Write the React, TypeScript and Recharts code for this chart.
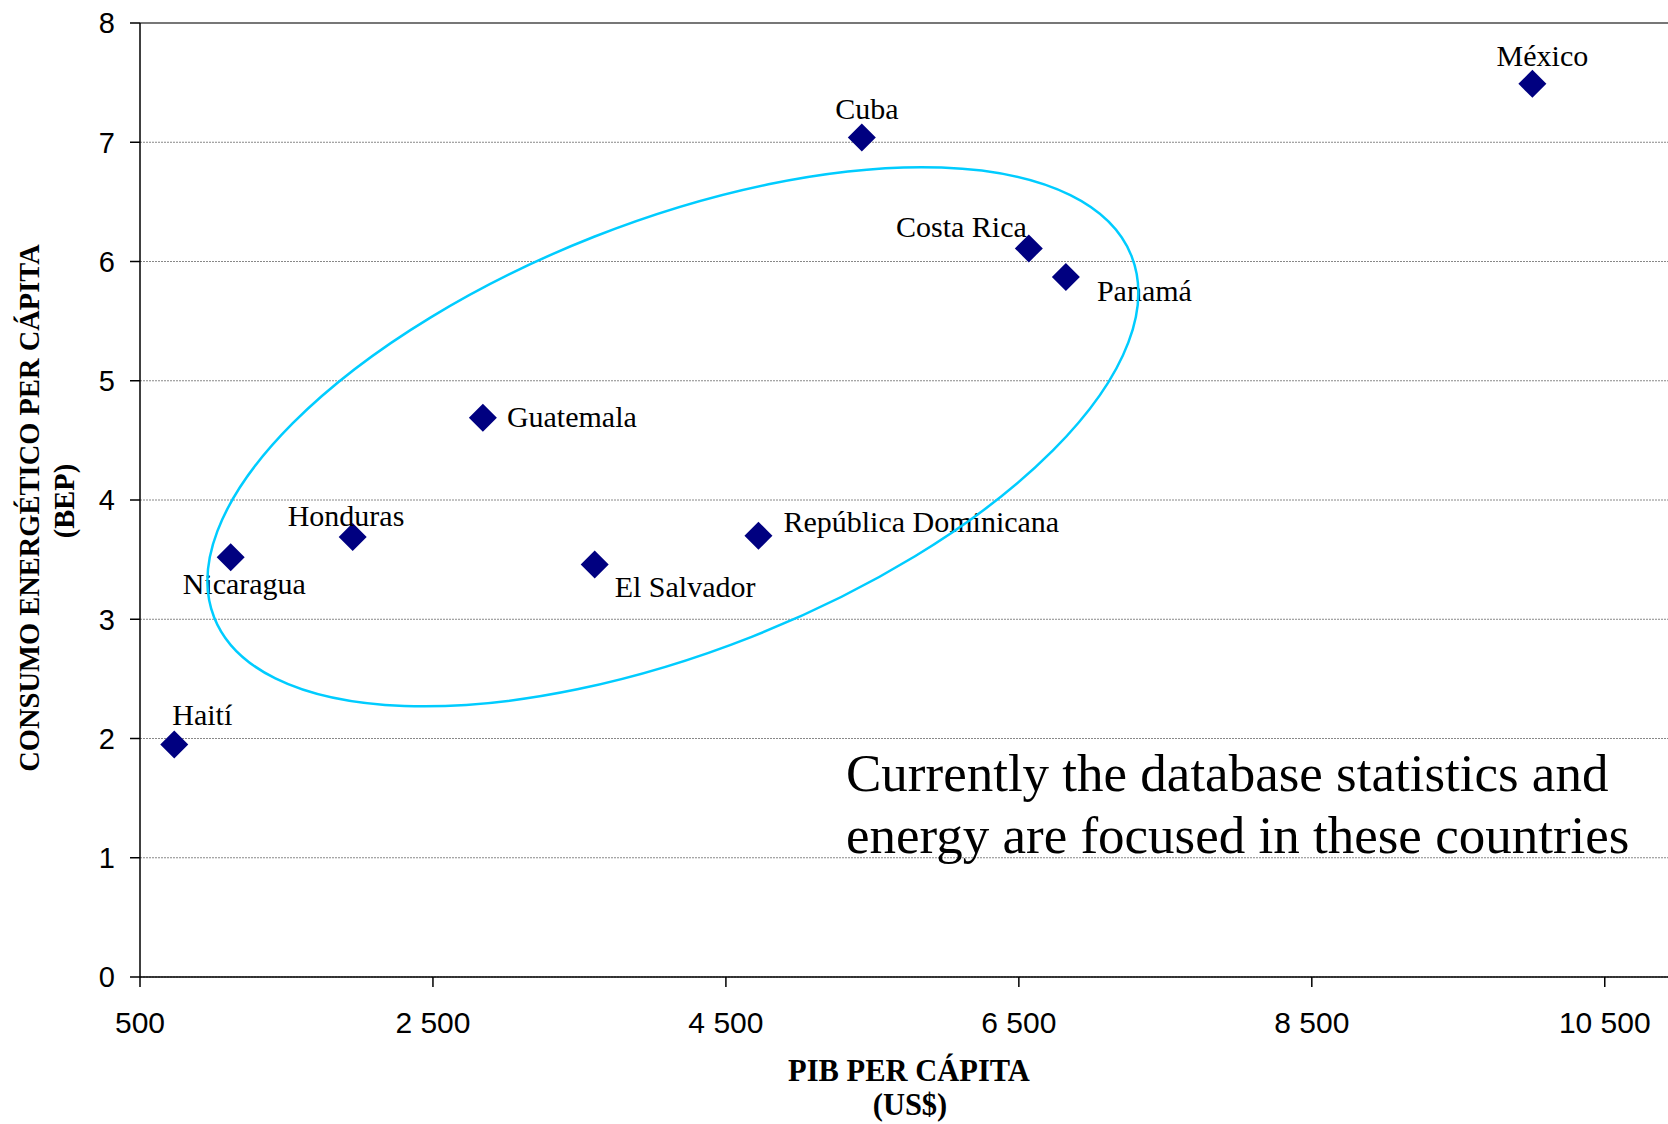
import { ScatterChart, Scatter, XAxis, YAxis, CartesianGrid, ReferenceDot, ReferenceLine, Label } from 'recharts';

const countries = ['Haití', 'Nicaragua', 'Honduras', 'Guatemala', 'El Salvador', 'República Dominicana', 'Cuba', 'Costa Rica', 'Panamá', 'México'];
const pibPerCapita = [734, 1119, 1952, 2841, 3604, 4722, 5428, 6568, 6821, 10006];
const consumoBep = [1.95, 3.52, 3.69, 4.69, 3.46, 3.7, 7.04, 6.11, 5.87, 7.49];

const xTicks = [500, 2500, 4500, 6500, 8500, 10500];
const yTicks = [0, 1, 2, 3, 4, 5, 6, 7, 8];

// centre of the highlighted group (data units)
const groupCenter = { pib: 4138, bep: 4.53 };

// label offsets from the marker: dx, dy (to baseline), anchor
const labelPlacement: [number, number, string][] = [
  [-2, -19, 'start'],
  [-48, 37, 'start'],
  [-65, -11, 'start'],
  [24, 9, 'start'],
  [20, 33, 'start'],
  [25, -4, 'start'],
  [5, -18, 'middle'],
  [-2, -11, 'end'],
  [31, 24, 'start'],
  [10, -18, 'middle'],
];

const data = countries.map((name, i) => ({ name, pib: pibPerCapita[i], bep: consumoBep[i], i }));

const serif = '"Liberation Serif", "Times New Roman", serif';
const sans = '"Liberation Sans", Arial, sans-serif';

const fmt = (v: number) => String(v).replace(/\B(?=(\d{3})+(?!\d))/g, ' ');

const Diamond = (props: any) => {
  const { cx, cy, payload } = props;
  const [dx, dy, anchor] = labelPlacement[payload.i];
  const s = 14;
  return (
    <g>
      <path d={`M${cx},${cy - s} L${cx + s},${cy} L${cx},${cy + s} L${cx - s},${cy} Z`} fill="#000080" />
      <text x={cx + dx} y={cy + dy} textAnchor={anchor as any} fontFamily={serif} fontSize={30} fill="#000">
        {payload.name}
      </text>
    </g>
  );
};

const GroupEllipse = (props: any) => {
  const { cx, cy } = props;
  return (
    <ellipse cx={cx} cy={cy} rx={493} ry={215} transform={`rotate(-21.5 ${cx} ${cy})`}
      fill="none" stroke="#00CCFF" strokeWidth={2.5} />
  );
};

const YTitle = (props: any) => {
  const vb = props.viewBox;
  const cy = vb.y + vb.height / 2;
  return (
    <g fontFamily={serif} fontWeight="bold" fontSize={28.5} fill="#000">
      <text x={39} y={cy + 8} textAnchor="middle" transform={`rotate(-90 39 ${cy + 8})`}>CONSUMO ENERGÉTICO PER CÁPITA</text>
      <text x={74} y={cy + 1} textAnchor="middle" transform={`rotate(-90 74 ${cy + 1})`}>(BEP)</text>
    </g>
  );
};

const XTitle = (props: any) => {
  const vb = props.viewBox;
  const cx = vb.x + vb.width / 2;
  return (
    <g fontFamily={serif} fontWeight="bold" fontSize={30.5} fill="#000">
      <text x={cx} y={1081} textAnchor="middle">PIB PER CÁPITA</text>
      <text x={cx + 1} y={1115} textAnchor="middle">(US$)</text>
    </g>
  );
};

export default function App() {
  return (
    <div style={{ position: 'fixed', left: 0, top: 0, width: 1668, height: 1124, overflow: 'hidden', background: '#fff' }}>
      <ScatterChart width={1700} height={1124} margin={{ top: 23, right: 22, left: 0, bottom: 0 }}>
        <CartesianGrid vertical={false} stroke="#888" strokeDasharray="2 1" />
        <XAxis type="number" dataKey="pib" domain={[500, 11000]} ticks={xTicks} tickFormatter={fmt}
          height={147} tickSize={10} tickMargin={25} stroke="#000" strokeWidth={1.5} allowDataOverflow
          tick={{ fontSize: 30, fontFamily: sans, fill: '#000' }}>
          <Label content={<XTitle />} />
        </XAxis>
        <YAxis type="number" dataKey="bep" domain={[0, 8]} ticks={yTicks} width={140}
          tickSize={10} tickMargin={15} stroke="#000" strokeWidth={1.5} allowDataOverflow
          tick={{ fontSize: 29, fontFamily: sans, fill: '#000' }}>
          <Label content={<YTitle />} />
        </YAxis>
        <ReferenceLine y={8} stroke="#777" strokeWidth={2} />
        <Scatter data={data} shape={<Diamond />} isAnimationActive={false} />
        <ReferenceDot x={groupCenter.pib} y={groupCenter.bep} shape={<GroupEllipse />} />
      </ScatterChart>
      <svg width={1668} height={1124} style={{ position: 'absolute', left: 0, top: 0, pointerEvents: 'none' }}>
        <g fontFamily={serif} fontSize={53} fill="#000">
          <text x={846} y={791}>Currently the database statistics and</text>
          <text x={846} y={853}>energy are focused in these countries</text>
        </g>
      </svg>
    </div>
  );
}
